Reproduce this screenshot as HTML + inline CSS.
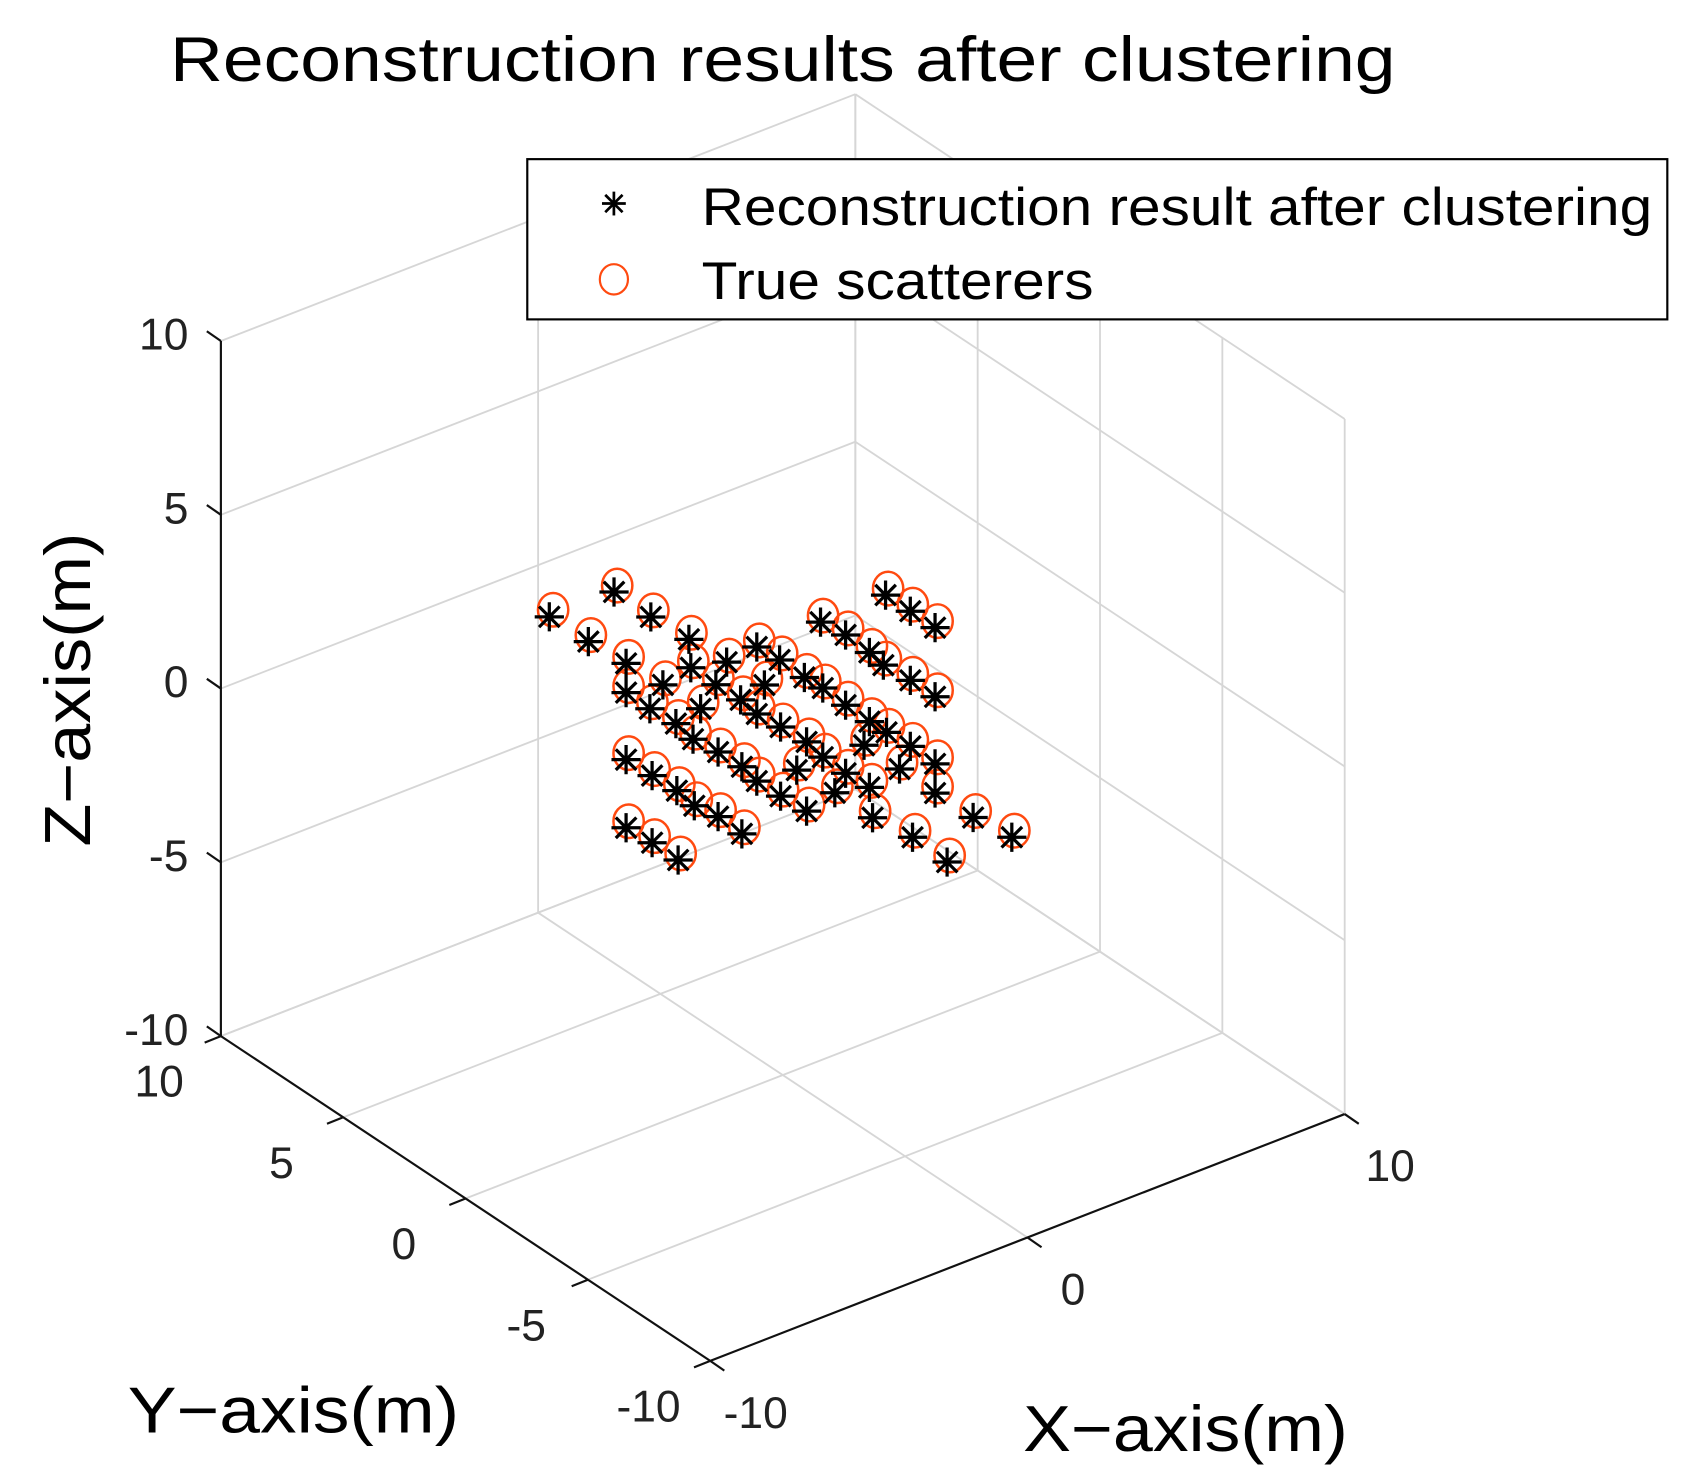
<!DOCTYPE html>
<html><head><meta charset="utf-8"><style>
html,body{margin:0;padding:0;background:#fff;}
svg{display:block;font-family:"Liberation Sans",Arial,sans-serif;}
</style></head><body>
<svg id="chart" width="1689" height="1484" viewBox="0 0 1560 1370.7" xmlns="http://www.w3.org/2000/svg">
<rect width="1560" height="1371" fill="#fff"/>
<g id="grid"></g>
<g id="axes"></g>
<g id="marks"></g>
<text x="723" y="75" font-size="58" text-anchor="middle" textLength="1132" lengthAdjust="spacingAndGlyphs">Reconstruction results after clustering</text>
<text x="0" y="0" font-size="60" text-anchor="middle" textLength="290" lengthAdjust="spacingAndGlyphs" transform="translate(83,637) rotate(-90)">Z−axis(m)</text>
<text x="271" y="1323" font-size="60" text-anchor="middle" textLength="306" lengthAdjust="spacingAndGlyphs">Y−axis(m)</text>
<text x="1095" y="1340" font-size="60" text-anchor="middle" textLength="300" lengthAdjust="spacingAndGlyphs">X−axis(m)</text>
<g>
<rect x="487" y="147" width="1053" height="148" fill="#fff" stroke="#000" stroke-width="2"/>
<g stroke="#000" stroke-width="2.5">
<line x1="556" y1="188" x2="578" y2="188"/><line x1="567" y1="177" x2="567" y2="199"/><line x1="559" y1="180" x2="575" y2="196"/><line x1="575" y1="180" x2="559" y2="196"/></g>
<text x="648" y="208" font-size="49" textLength="878" lengthAdjust="spacingAndGlyphs">Reconstruction result after clustering</text>
<ellipse cx="567" cy="258" rx="13" ry="14" fill="none" stroke="#ff4a10" stroke-width="2"/>
<text x="648" y="276" font-size="49" textLength="362" lengthAdjust="spacingAndGlyphs">True scatterers</text>
</g>
</svg>
<script>
const xTicks=[-10,0,10];
const yTicks=[-10,-5,0,5,10];
const zTicks=[-10,-5,0,5,10];
const recX=[-7.36,-5.32,-4.16,-6.13,-2.96,-4.94,-2.90,-1.77,-0.82,-0.10,1.19,1.98,2.73,3.24,4.02,4.80,3.17,4.02,4.80,-4.94,-3.78,-2.11,-0.58,0.68,1.26,1.98,2.73,3.27,4.02,4.80,-4.19,-2.59,-1.33,-0.82,-3.37,-2.83,-0.07,0.75,1.26,1.98,2.56,3.68,4.80,-4.94,-4.12,-3.34,-2.79,-2.04,-1.29,-2.04,-1.29,-0.82,-0.07,0.75,0.44,1.64,2.73,2.83,4.09,5.18,6.00,7.22,-4.94,-4.12,-3.30];
const recY=[0,0,0,0,0,0,0,0,0,0,0,0,0,0,0,0,0,0,0,0,0,0,0,0,0,0,0,0,0,0,0,0,0,0,0,0,0,0,0,0,0,0,0,0,0,0,0,0,0,0,0,0,0,0,0,0,0,0,0,0,0,0,0,0,0];
const recZ=[5.80,5.79,4.66,4.65,3.59,3.60,2.75,2.51,2.61,1.98,2.61,1.96,1.19,2.66,1.92,1.17,0.67,-0.07,-0.82,2.76,2.57,1.98,1.43,1.20,0.69,-0.06,-0.80,-1.30,-1.97,-2.75,2.03,1.46,1.27,0.68,1.31,0.67,0.04,-0.68,-1.30,-2.02,-1.42,-2.50,-3.59,0.83,0.08,-0.63,-1.26,-1.84,-2.60,0.02,-0.67,-1.25,-1.95,-2.67,-1.38,-2.46,-2.69,-3.60,-4.61,-5.71,-4.72,-5.72,-1.13,-1.85,-2.64];
const trueX=[-7.24,-5.22,-4.08,-6.05,-2.88,-4.86,-2.82,-1.69,-0.74,-0.02,1.27,2.06,2.81,3.32,4.10,4.88,3.25,4.10,4.88,-4.86,-3.70,-2.03,-0.50,0.76,1.34,2.06,2.81,3.35,4.10,4.88,-4.11,-2.51,-1.25,-0.74,-3.29,-2.75,0.01,0.83,1.34,2.06,2.64,3.76,4.88,-4.86,-4.04,-3.26,-2.71,-1.96,-1.21,-1.96,-1.21,-0.74,0.01,0.83,0.52,1.72,2.81,2.91,4.17,5.26,6.08,7.30,-4.86,-4.04,-3.22];
const trueY=recY;
const trueZ=[5.96,5.94,4.82,4.81,3.75,3.76,2.91,2.67,2.77,2.14,2.77,2.12,1.35,2.82,2.08,1.33,0.83,0.09,-0.66,2.92,2.73,2.14,1.59,1.36,0.85,0.10,-0.64,-1.14,-1.81,-2.59,2.19,1.62,1.43,0.84,1.47,0.83,0.20,-0.52,-1.14,-1.86,-1.26,-2.34,-3.43,0.99,0.24,-0.47,-1.10,-1.68,-2.44,0.18,-0.51,-1.09,-1.79,-2.51,-1.22,-2.30,-2.53,-3.44,-4.45,-5.55,-4.56,-5.56,-0.97,-1.69,-2.48];

const NS='http://www.w3.org/2000/svg';
const O={x:204,y:957};
const EX={x:29.3,y:-11.4}, EY={x:-22.6,y:-15}, EZ={x:0,y:-32.1};
function P(x,y,z){return {x:O.x+(x+10)*EX.x+(y-10)*EY.x+(z+10)*EZ.x, y:O.y+(x+10)*EX.y+(y-10)*EY.y+(z+10)*EZ.y};}
function mk(tag,attrs,parent){const e=document.createElementNS(NS,tag);for(const k in attrs)e.setAttribute(k,attrs[k]);parent.appendChild(e);return e;}
const grid=document.getElementById('grid'),axes=document.getElementById('axes'),marks=document.getElementById('marks');
const gs={stroke:'#d6d6d6','stroke-width':1.7};
function gline(a,b,name){const l=mk('line',Object.assign({x1:a.x,y1:a.y,x2:b.x,y2:b.y},gs),grid);

}
xTicks.forEach(x=>{gline(P(x,10,-10),P(x,10,10),'grid-x-wall');gline(P(x,10,-10),P(x,-10,-10),'grid-x-floor');});
zTicks.forEach(z=>{gline(P(-10,10,z),P(10,10,z),'grid-z-back');gline(P(10,10,z),P(10,-10,z),'grid-z-side');});
yTicks.forEach(y=>{gline(P(10,y,-10),P(10,y,10),'grid-y-wall');gline(P(-10,y,-10),P(10,y,-10),'grid-y-floor');});
function aline(a,b,name){const l=mk('line',{x1:a.x,y1:a.y,x2:b.x,y2:b.y,stroke:'#111','stroke-width':2},axes);

}
aline(P(-10,10,-10),P(-10,10,10),'z-axis-line');
aline(P(-10,10,-10),P(-10,-10,-10),'y-axis-line');
aline(P(-10,-10,-10),P(10,-10,-10),'x-axis-line');
function label(t,x,y,anchor,name){const e=mk('text',{x:x,y:y,'font-size':41,'text-anchor':anchor,fill:'#222'},axes);e.textContent=t;

}
zTicks.forEach(z=>{const p=P(-10,10,z);aline(p,{x:p.x-13,y:p.y-9},'z-tick');label(String(z),p.x-30,p.y+8,'end','z-tick-label');});
yTicks.forEach(y=>{const p=P(-10,y,-10);aline(p,{x:p.x-15,y:p.y+6},'y-tick');label(String(y),p.x-57,p.y+56,'middle','y-tick-label');});
xTicks.forEach(x=>{const p=P(x,-10,-10);aline(p,{x:p.x+13,y:p.y+9},'x-tick');label(String(x),p.x+42,p.y+62,'middle','x-tick-label');});
for(let i=0;i<trueX.length;i++){const p=P(trueX[i],trueY[i],trueZ[i]);
const c=mk('ellipse',{cx:p.x,cy:p.y,rx:14,ry:15.5,fill:'none',stroke:'#ff4a10','stroke-width':2.3},marks);

}
for(let i=0;i<recX.length;i++){const p=P(recX[i],recY[i],recZ[i]);const r=13.5,d=9.5;
const g=mk('path',{d:`M${p.x-r},${p.y}H${p.x+r}M${p.x},${p.y-r}V${p.y+r}M${p.x-d},${p.y-d}L${p.x+d},${p.y+d}M${p.x+d},${p.y-d}L${p.x-d},${p.y+d}`,stroke:'#000','stroke-width':3,fill:'none'},marks);

}
</script>
</body></html>
